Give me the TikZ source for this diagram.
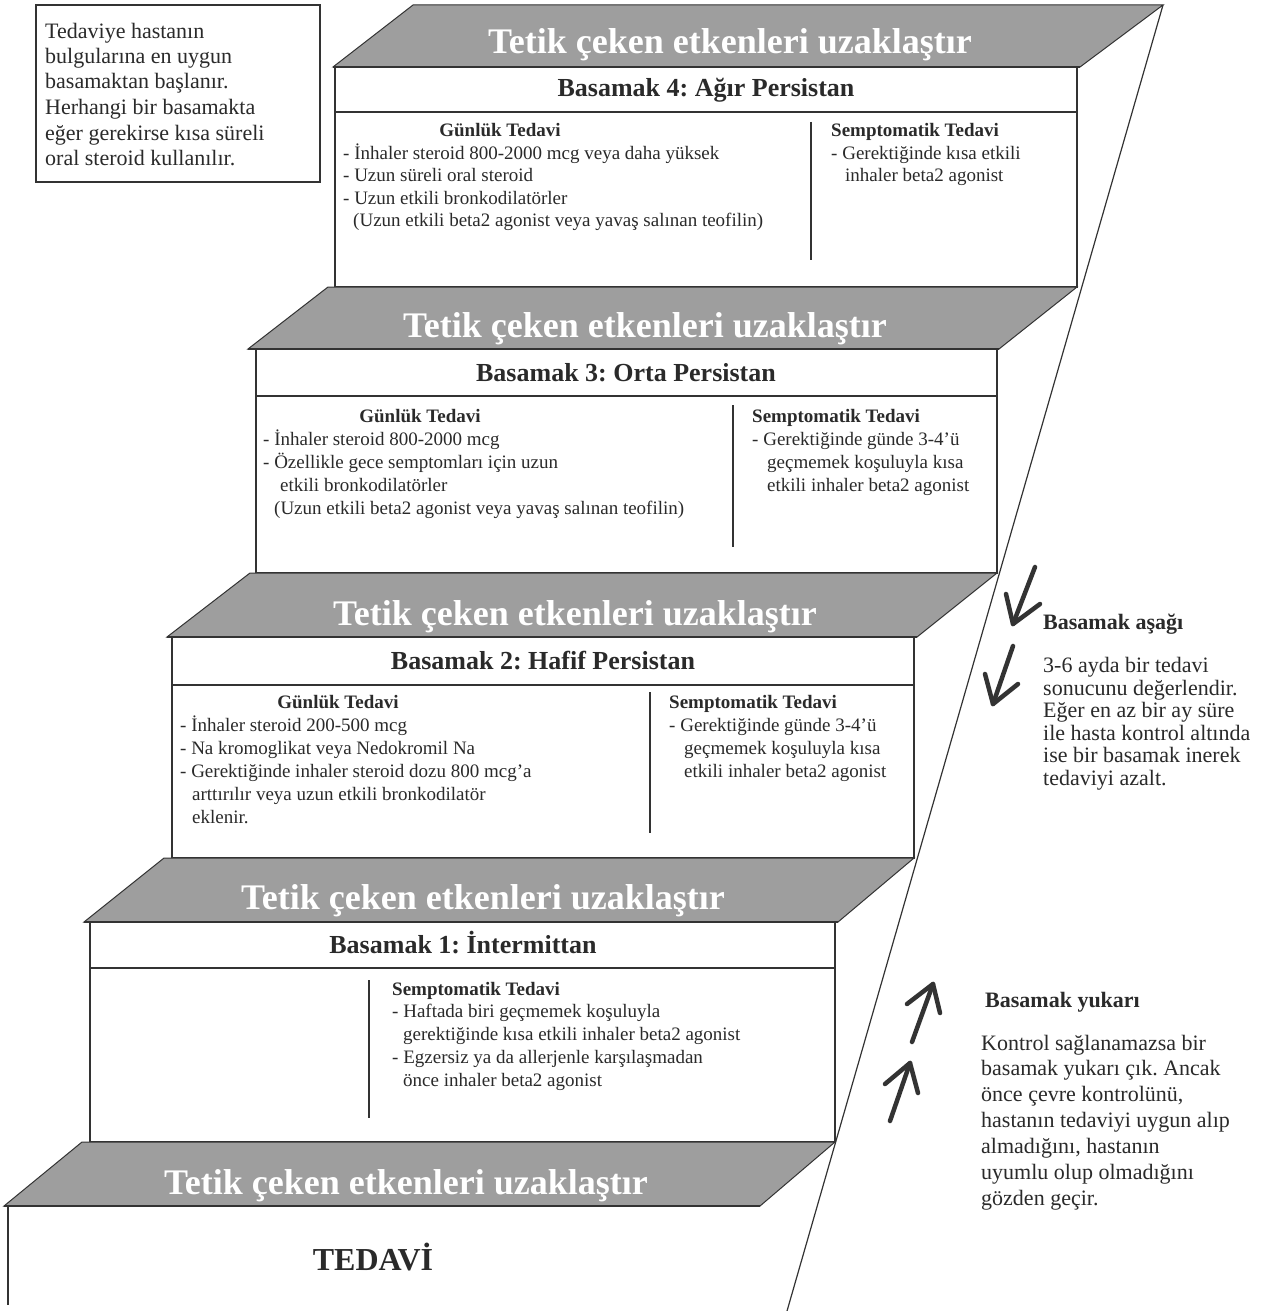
\documentclass[tikz,border=0pt]{standalone}
\usepackage{fontspec}
\setmainfont{Liberation Serif}
\frenchspacing
\definecolor{linec}{HTML}{333333}
\definecolor{bandgray}{HTML}{9E9E9E}
\definecolor{txtc}{HTML}{2A2A2A}
\begin{document}
\frenchspacing
\begin{tikzpicture}[x=1pt,y=-1pt,
  bandshape/.style={fill=bandgray, draw=linec, line width=1pt, line join=miter},
  bandedge/.style={draw=linec, line width=2.2pt},
  boxline/.style={draw=linec, line width=1.4pt},
  divline/.style={draw=linec, line width=1.4pt},
  bandtxt/.style={font=\fontsize{36}{40}\bfseries\selectfont, text=white, inner sep=0pt, anchor=base},
  ttl/.style={font=\fontsize{26}{30}\bfseries\selectfont, text=txtc, inner sep=0pt, anchor=base},
  hdc/.style={font=\fontsize{19}{22}\bfseries\selectfont, text=txtc, inner sep=0pt, anchor=base},
  hdl/.style={font=\fontsize{19}{22}\bfseries\selectfont, text=txtc, inner sep=0pt, anchor=base west},
  bd/.style={font=\fontsize{19}{22}\selectfont, text=txtc, inner sep=0pt, anchor=base west},
  side/.style={font=\fontsize{22}{25}\selectfont, text=txtc, inner sep=0pt, anchor=base west},
  sidehd/.style={font=\fontsize{22}{25}\bfseries\selectfont, text=txtc, inner sep=0pt, anchor=base west},
  handarrow/.style={draw=linec, line width=4.5pt, line cap=round, line join=round}
]
\useasboundingbox (0,0) rectangle (1273,1311);
\fill[white] (0,0) rectangle (1273,1311);

% ---------- diagonal ----------
\coordinate (dtop) at (1163,5);
\coordinate (dbot) at (787,1311);
\draw[draw=linec, line width=1.2pt] (dtop) -- (dbot);

% ---------- Step 4 ----------
\draw[bandshape] (413,5) -- (1163,5) -- (1080,67) -- (333,67) -- cycle;
\draw[boxline] (335,67) rectangle (1077,287);
\draw[bandedge] (333,67) -- (1080,67);
\draw[boxline] (335,112) -- (1077,112);
\draw[divline] (811,122) -- (811,260);
\node[bandtxt] (b4) at (730,54) {Tetik çeken etkenleri uzaklaştır};
\node[ttl] (t4) at (706,97) {Basamak 4: Ağır Persistan};
\node[hdc] (g4) at (500,136) {Günlük Tedavi};
\node[bd] (g4a) at (343,159) {- İnhaler steroid 800-2000 mcg veya daha yüksek};
\node[bd] (g4b) at (343,181.5) {- Uzun süreli oral steroid};
\node[bd] (g4c) at (343,204) {- Uzun etkili bronkodilatörler};
\node[bd] (g4d) at (353,226.5) {(Uzun etkili beta2 agonist veya yavaş salınan teofilin)};
\node[hdl] (s4) at (831,136) {Semptomatik Tedavi};
\node[bd] (s4a) at (831,159) {- Gerektiğinde kısa etkili};
\node[bd] (s4b) at (845,181.5) {inhaler beta2 agonist};

% ---------- Step 3 ----------
\draw[bandshape] (328,287) -- (1077,287) -- (999,349) -- (248,349) -- cycle;
\draw[boxline] (256,349) rectangle (997,573);
\draw[bandedge] (248,349) -- (999,349);
\draw[boxline] (256,396) -- (997,396);
\draw[divline] (733,405) -- (733,547);
\node[bandtxt] (b3) at (645,337) {Tetik çeken etkenleri uzaklaştır};
\node[ttl] (t3) at (626,381) {Basamak 3: Orta Persistan};
\node[hdc] (g3) at (420,422) {Günlük Tedavi};
\node[bd] (g3a) at (263,445) {- İnhaler steroid 800-2000 mcg};
\node[bd] (g3b) at (263,468) {- Özellikle gece semptomları için uzun};
\node[bd] (g3c) at (280,491) {etkili bronkodilatörler};
\node[bd] (g3d) at (274,514) {(Uzun etkili beta2 agonist veya yavaş salınan teofilin)};
\node[hdl] (s3) at (752,422) {Semptomatik Tedavi};
\node[bd] (s3a) at (752,445) {- Gerektiğinde günde 3-4’ü};
\node[bd] (s3b) at (767,468) {geçmemek koşuluyla kısa};
\node[bd] (s3c) at (767,491) {etkili inhaler beta2 agonist};

% ---------- Step 2 ----------
\draw[bandshape] (250,573) -- (997,573) -- (917,637) -- (167,637) -- cycle;
\draw[boxline] (172,637) rectangle (914,858);
\draw[bandedge] (167,637) -- (917,637);
\draw[boxline] (172,685) -- (914,685);
\draw[divline] (650,692) -- (650,833);
\node[bandtxt] (b2) at (575,625) {Tetik çeken etkenleri uzaklaştır};
\node[ttl] (t2) at (543,669) {Basamak 2: Hafif Persistan};
\node[hdc] (g2) at (338,708) {Günlük Tedavi};
\node[bd] (g2a) at (180,731) {- İnhaler steroid 200-500 mcg};
\node[bd] (g2b) at (180,754) {- Na kromoglikat veya Nedokromil Na};
\node[bd] (g2c) at (180,777) {- Gerektiğinde inhaler steroid dozu 800 mcg’a};
\node[bd] (g2d) at (192,800) {arttırılır veya uzun etkili bronkodilatör};
\node[bd] (g2e) at (192,823) {eklenir.};
\node[hdl] (s2) at (669,708) {Semptomatik Tedavi};
\node[bd] (s2a) at (669,731) {- Gerektiğinde günde 3-4’ü};
\node[bd] (s2b) at (684,754) {geçmemek koşuluyla kısa};
\node[bd] (s2c) at (684,777) {etkili inhaler beta2 agonist};

% ---------- Step 1 ----------
\draw[bandshape] (164,858) -- (914,858) -- (838,922) -- (84,922) -- cycle;
\draw[boxline] (90,922) rectangle (835,1142);
\draw[bandedge] (84,922) -- (838,922);
\draw[boxline] (90,968) -- (835,968);
\draw[divline] (369,980) -- (369,1118);
\node[bandtxt] (b1) at (483,909) {Tetik çeken etkenleri uzaklaştır};
\node[ttl] (t1) at (463,953) {Basamak 1: İntermittan};
\node[hdl] (s1) at (392,995) {Semptomatik Tedavi};
\node[bd] (s1a) at (392,1017) {- Haftada biri geçmemek koşuluyla};
\node[bd] (s1b) at (403,1040) {gerektiğinde kısa etkili inhaler beta2 agonist};
\node[bd] (s1c) at (392,1063) {- Egzersiz ya da allerjenle karşılaşmadan};
\node[bd] (s1d) at (403,1086) {önce inhaler beta2 agonist};

% ---------- Step 0 ----------
\draw[bandshape] (82,1142) -- (835,1142) -- (760,1206) -- (4,1206) -- cycle;
\draw[bandedge] (4,1206) -- (760,1206);
\draw[boxline] (8,1206) -- (8,1305);
\node[bandtxt] (b0) at (406,1194) {Tetik çeken etkenleri uzaklaştır};
\node[font=\fontsize{32}{36}\bfseries\selectfont, text=txtc, inner sep=0pt, anchor=base] (ted) at (373,1270) {TEDAVİ};

% ---------- top-left note ----------
\draw[boxline] (36,5) rectangle (320,182);
\node[side] (n1) at (45,39) {Tedaviye hastanın};
\node[side] (n2) at (45,64) {bulgularına en uygun};
\node[side] (n3) at (45,89) {basamaktan başlanır.};
\node[side] (n4) at (45,115) {Herhangi bir basamakta};
\node[side] (n5) at (45,140) {eğer gerekirse kısa süreli};
\node[side] (n6) at (45,165) {oral steroid kullanılır.};

% ---------- step down ----------
\node[sidehd] (dh) at (1043,629) {Basamak aşağı};
\node[side] (d1) at (1043,672) {3-6 ayda bir tedavi};
\node[side] (d2) at (1043,695) {sonucunu değerlendir.};
\node[side] (d3) at (1043,717) {Eğer en az bir ay süre};
\node[side] (d4) at (1043,740) {ile hasta kontrol altında};
\node[side] (d5) at (1043,762) {ise bir basamak inerek};
\node[side] (d6) at (1043,785) {tedaviyi azalt.};

% ---------- step up ----------
\node[sidehd] (uh) at (985,1007) {Basamak yukarı};
\node[side] (u1) at (981,1050) {Kontrol sağlanamazsa bir};
\node[side] (u2) at (981,1075) {basamak yukarı çık. Ancak};
\node[side] (u3) at (981,1101) {önce çevre kontrolünü,};
\node[side] (u4) at (981,1127) {hastanın tedaviyi uygun alıp};
\node[side] (u5) at (981,1153) {almadığını, hastanın};
\node[side] (u6) at (981,1179) {uyumlu olup olmadığını};
\node[side] (u7) at (981,1205) {gözden geçir.};

% ---------- hand drawn arrows ----------
\draw[handarrow] (1035,567) -- (1013,624);
\draw[handarrow] (1006,594) -- (1013,624) -- (1040,604);
\draw[handarrow] (1013,646) -- (993,704);
\draw[handarrow] (985,674) -- (993,704) -- (1018,684);
\draw[handarrow] (912,1042) -- (933,984);
\draw[handarrow] (907,1004) -- (933,984) -- (940,1013);
\draw[handarrow] (890,1121) -- (910,1063);
\draw[handarrow] (885,1084) -- (910,1063) -- (918,1093);
\end{tikzpicture}
\end{document}
